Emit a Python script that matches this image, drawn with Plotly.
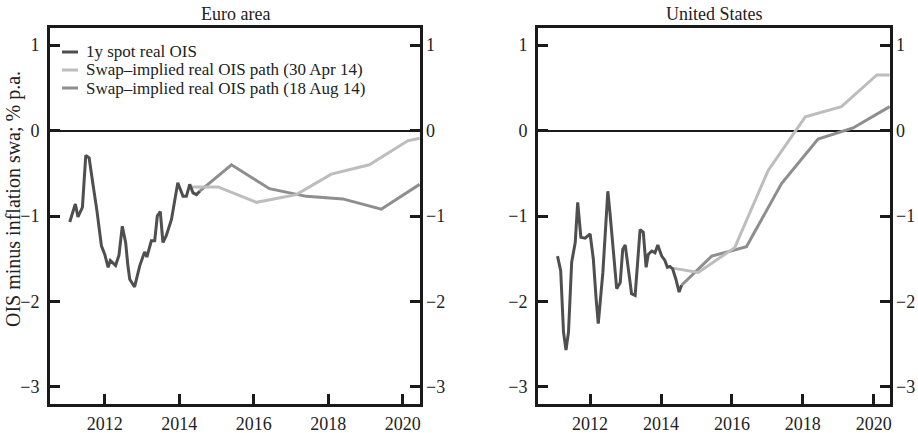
import plotly.graph_objects as go

# ---- Euro area data ----
ea_spot_x = [2011.06, 2011.21, 2011.28, 2011.40, 2011.49, 2011.58, 2011.69, 2011.79, 2011.91, 2012.00,
             2012.09, 2012.15, 2012.29, 2012.38, 2012.47, 2012.56, 2012.62, 2012.67, 2012.80, 2012.94,
             2013.07, 2013.13, 2013.25, 2013.34, 2013.41, 2013.49, 2013.56, 2013.65, 2013.79, 2013.88,
             2013.96, 2014.10, 2014.19, 2014.28, 2014.37, 2014.46, 2014.55]
ea_spot_y = [-1.07, -0.86, -1.01, -0.90, -0.29, -0.32, -0.65, -0.94, -1.35, -1.45,
             -1.60, -1.52, -1.58, -1.46, -1.12, -1.31, -1.58, -1.74, -1.83, -1.58,
             -1.42, -1.48, -1.29, -1.29, -1.00, -0.95, -1.31, -1.23, -1.04, -0.80,
             -0.61, -0.77, -0.77, -0.63, -0.73, -0.75, -0.71]
ea_apr_x = [2014.28, 2015.04, 2016.07, 2017.14, 2018.08, 2019.10, 2020.13, 2020.45]
ea_apr_y = [-0.66, -0.66, -0.84, -0.75, -0.51, -0.40, -0.12, -0.09]
ea_aug_x = [2014.55, 2015.40, 2016.42, 2017.41, 2018.39, 2019.42, 2020.45]
ea_aug_y = [-0.71, -0.40, -0.68, -0.77, -0.80, -0.92, -0.63]

# ---- United States data ----
us_spot_x = [2011.08, 2011.17, 2011.25, 2011.32, 2011.39, 2011.48, 2011.58, 2011.65, 2011.74, 2011.86,
             2012.00, 2012.09, 2012.17, 2012.23, 2012.36, 2012.44, 2012.50, 2012.56, 2012.66, 2012.75,
             2012.85, 2012.92, 2012.99, 2013.08, 2013.17, 2013.27, 2013.33, 2013.41, 2013.50, 2013.58,
             2013.64, 2013.74, 2013.83, 2013.91, 2014.02, 2014.11, 2014.18, 2014.25, 2014.33, 2014.42,
             2014.51, 2014.58]
us_spot_y = [-1.47, -1.64, -2.36, -2.57, -2.36, -1.54, -1.31, -0.84, -1.25, -1.26,
             -1.21, -1.50, -1.97, -2.26, -1.66, -1.12, -0.71, -0.96, -1.39, -1.85,
             -1.78, -1.39, -1.34, -1.66, -1.91, -1.93, -1.58, -1.16, -1.19, -1.60,
             -1.45, -1.41, -1.43, -1.34, -1.47, -1.52, -1.60, -1.59, -1.62, -1.74,
             -1.89, -1.81]
us_apr_x = [2014.33, 2015.05, 2016.08, 2017.02, 2017.82, 2018.07, 2019.09, 2020.09, 2020.45]
us_apr_y = [-1.61, -1.66, -1.37, -0.47, 0.01, 0.16, 0.28, 0.65, 0.65]
us_aug_x = [2014.58, 2015.43, 2016.41, 2017.40, 2018.43, 2019.42, 2020.45]
us_aug_y = [-1.81, -1.47, -1.36, -0.62, -0.10, 0.03, 0.28]

x_ticks = [2012, 2014, 2016, 2018, 2020]
x_tick_labels = ["2012", "2014", "2016", "2018", "2020"]
y_ticks = [-3, -2, -1, 0, 1]
y_tick_labels = ["\u22123", "\u22122", "\u22121", "0", "1"]

names = ["1y spot real OIS", "Swap\u2013implied real OIS path (30 Apr 14)",
         "Swap\u2013implied real OIS path (18 Aug 14)"]
colors = ["#4f4f4f", "#bdbdbd", "#8e8e8e"]

FONT = "Liberation Serif"
W, H = 918, 433
INK = "#1a1a1a"
TXT = "#222"

fig = go.Figure()

def add(x, y, i, xa, ya):
    fig.add_trace(go.Scatter(x=x, y=y, mode="lines", name=names[i],
                             line=dict(color=colors[i], width=3),
                             xaxis=xa, yaxis=ya, showlegend=False))

add(ea_aug_x, ea_aug_y, 2, "x", "y")
add(ea_apr_x, ea_apr_y, 1, "x", "y")
add(ea_spot_x, ea_spot_y, 0, "x", "y")
add(us_aug_x, us_aug_y, 2, "x2", "y2")
add(us_apr_x, us_apr_y, 1, "x2", "y2")
add(us_spot_x, us_spot_y, 0, "x2", "y2")
# invisible traces so the right-hand axes render
fig.add_trace(go.Scatter(x=[None], y=[None], xaxis="x", yaxis="y3", showlegend=False, hoverinfo="skip"))
fig.add_trace(go.Scatter(x=[None], y=[None], xaxis="x2", yaxis="y4", showlegend=False, hoverinfo="skip"))

yr = [-3.2, 1.2]
xr = [2010.53, 2020.46]
dom1 = [50 / W, 420 / W]
dom2 = [538 / W, 890 / W]
ydom = [1 - 404 / H, 1 - 28 / H]

tickfont = dict(family=FONT, size=18, color=TXT)

xcommon = dict(range=xr, tickvals=x_ticks, ticktext=x_tick_labels, ticks="inside",
               ticklen=10, tickwidth=3, tickcolor=INK, showline=True, linewidth=3,
               linecolor=INK, mirror=True, showgrid=False, zeroline=False,
               tickfont=tickfont, ticklabelstandoff=1)
ycommon = dict(range=yr, tickvals=y_ticks, ticktext=y_tick_labels, ticks="inside",
               ticklen=10, tickwidth=3, tickcolor=INK, showline=True, linewidth=3,
               linecolor=INK, mirror=True, showgrid=False, zeroline=True,
               zerolinecolor=INK, zerolinewidth=2, tickfont=tickfont, domain=ydom,
               ticklabelstandoff=4)
yright = dict(range=yr, tickvals=y_ticks, ticktext=y_tick_labels, ticks="inside",
              ticklen=10, tickwidth=3, tickcolor=INK, showline=False,
              showgrid=False, zeroline=False, tickfont=tickfont, side="right",
              ticklabelstandoff=5)

fig.update_layout(
    width=W, height=H,
    margin=dict(l=0, r=0, t=0, b=0, autoexpand=False),
    paper_bgcolor="white", plot_bgcolor="white",
    font=dict(family=FONT, size=18, color=TXT),
    xaxis=dict(domain=dom1, anchor="y", **xcommon),
    yaxis=dict(anchor="x", **ycommon),
    xaxis2=dict(domain=dom2, anchor="y2", **xcommon),
    yaxis2=dict(anchor="x2", **ycommon),
    yaxis3=dict(overlaying="y", anchor="x", **yright),
    yaxis4=dict(overlaying="y2", anchor="x2", **yright),
    showlegend=False,
)

# panel titles and y-axis title
fig.add_annotation(text="Euro area", x=(dom1[0] + dom1[1]) / 2, y=1 - 14 / H,
                   xref="paper", yref="paper", xanchor="center", yanchor="middle",
                   showarrow=False, font=dict(family=FONT, size=18, color=TXT))
fig.add_annotation(text="United States", x=(dom2[0] + dom2[1]) / 2, y=1 - 14 / H,
                   xref="paper", yref="paper", xanchor="center", yanchor="middle",
                   showarrow=False, font=dict(family=FONT, size=18, color=TXT))
fig.add_annotation(text="OIS minus inflation swa; % p.a.", x=13 / W, y=1 - 199 / H,
                   xref="paper", yref="paper", xanchor="center", yanchor="middle",
                   textangle=-90, showarrow=False,
                   font=dict(family=FONT, size=20, color=TXT))

# legend (inside Euro-area panel)
leg_y = [52, 70, 88]
for i in range(3):
    yy = 1 - leg_y[i] / H
    fig.add_shape(type="line", xref="paper", yref="paper",
                  x0=62 / W, x1=78 / W, y0=yy, y1=yy,
                  line=dict(color=colors[i], width=3))
    fig.add_annotation(text=names[i], x=84 / W, y=yy, xref="paper", yref="paper",
                       xanchor="left", yanchor="middle", showarrow=False,
                       font=dict(family=FONT, size=17, color=TXT))

fig.write_html("out.html", config={"displayModeBar": False},
               post_script="document.body.style.margin='0';document.body.style.overflow='hidden';")
